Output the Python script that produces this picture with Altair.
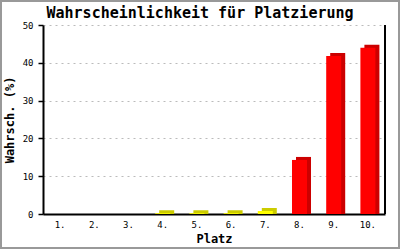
import altair as alt
import pandas as pd

places = ["1.", "2.", "3.", "4.", "5.", "6.", "7.", "8.", "9.", "10."]
probs = [0.0, 0.0, 0.0, 0.2, 0.2, 0.2, 0.8, 14.3, 41.8, 44.0]
title_text = "Wahrscheinlichkeit für Platzierung"

df = pd.DataFrame({"Platz": places, "p": probs})

W, H = 342, 189
FONT = "DejaVu Sans Mono"
DEPTH = 3  # pixels of 3D depth

xenc = alt.X("Platz:N", sort=places,
             scale=alt.Scale(paddingInner=0.0, paddingOuter=0.0),
             axis=alt.Axis(title="Platz", labelAngle=0, ticks=False, domain=True,
                           domainColor="black", domainWidth=2, labelPadding=6,
                           labelFont=FONT, labelFontSize=9, labelColor="black",
                           titleFont=FONT, titleFontSize=12, titleFontWeight="bold",
                           titlePadding=4, titleColor="black", grid=False))
yscale = alt.Scale(domain=[0, 50], nice=False)
yaxis = alt.Axis(title="Wahrsch. (%)", values=[0, 10, 20, 30, 40, 50],
                 labelOverlap=False,
                 tickSize=5, tickColor="black", tickWidth=1.5,
                 domainColor="black", domainWidth=2, labelPadding=5,
                 labelFont=FONT, labelFontSize=9, labelColor="black",
                 titleFont=FONT, titleFontSize=12, titleFontWeight="bold",
                 titlePadding=6, titleColor="black",
                 grid=True, gridColor="#bbbbbb", gridDash=[2, 4], gridWidth=1)

front_col = alt.Color("p:Q", legend=None,
                      scale=alt.Scale(type="threshold", domain=[5], range=["#FFFF00", "#FF0000"]))
back_col = alt.Color("p:Q", legend=None,
                     scale=alt.Scale(type="threshold", domain=[5], range=["#CCCC00", "#CC0000"]))

base = alt.Chart(df)

back = base.transform_filter("datum.p > 0").transform_calculate(
    top=f"datum.p + 50 * {DEPTH} / {H}"
).mark_bar(size=15, xOffset=4).encode(
    x=xenc, y=alt.Y("top:Q", scale=yscale, axis=yaxis), color=back_col)
front = base.mark_bar(size=15).encode(
    x=xenc, y=alt.Y("p:Q", scale=yscale, axis=yaxis), color=front_col)

right_line = alt.Chart(pd.DataFrame({"a": [0]})).mark_rule(color="black", strokeWidth=2).encode(
    x=alt.value(W), y=alt.value(0), y2=alt.value(H))

border = alt.Chart(pd.DataFrame({"a": [0]})).mark_rect(
    fill=None, stroke="#999999", strokeWidth=2).encode(
    x=alt.value(-42), x2=alt.value(356), y=alt.value(-24), y2=alt.value(223))

title = alt.Chart(pd.DataFrame({"t": [title_text]})).mark_text(
    font=FONT, fontSize=15, fontWeight="bold", color="black", align="center", baseline="alphabetic").encode(
    text="t:N", x=alt.value(W / 2 - 14), y=alt.value(-7))

chart = alt.layer(back, front, right_line, border, title).resolve_scale(color="independent").properties(
    width=W, height=H,
    autosize=alt.AutoSizeParams(type="none"),
    padding={"left": 43, "top": 25, "right": 15, "bottom": 36},
    background="white",
).configure_view(stroke=None)

chart.save("out.html", embed_options={"renderer": "svg", "actions": False})
